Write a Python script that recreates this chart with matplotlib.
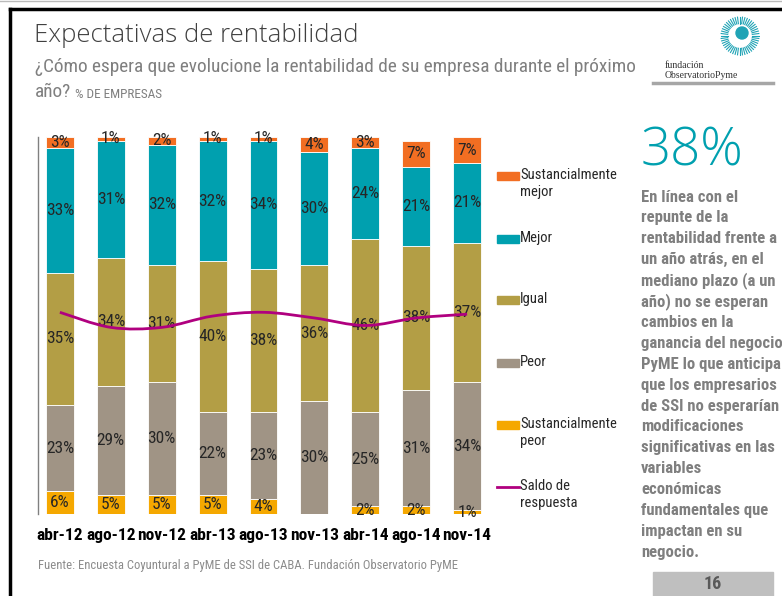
import matplotlib
matplotlib.use("Agg")
import matplotlib.pyplot as plt
from matplotlib import font_manager
from matplotlib.path import Path
from matplotlib.patches import PathPatch, Rectangle, Circle
from matplotlib.lines import Line2D
import numpy as np

# --- data
periodos = ["abr-12", "ago-12", "nov-12", "abr-13", "ago-13", "nov-13", "abr-14", "ago-14", "nov-14"]
sust_peor = [6, 5, 5, 5, 4, 0, 2, 2, 1]
peor = [23, 29, 30, 22, 23, 30, 25, 31, 34]
igual = [35, 34, 31, 40, 38, 36, 46, 38, 37]
mejor = [33, 31, 32, 32, 34, 30, 24, 21, 21]
sust_mejor = [3, 1, 2, 1, 1, 4, 3, 7, 7]
saldo = [7, -1, -1, 5, 7, 4, 0, 4, 6]

series = [
    ("Sustancialmente\npeor", sust_peor, "#F5A800"),
    ("Peor", peor, "#A09485"),
    ("Igual", igual, "#B39E45"),
    ("Mejor", mejor, "#00A0AF"),
    ("Sustancialmente\nmejor", sust_mejor, "#F26E22"),
]
line_color = "#B0007F"

# the slide uses Arial Narrow; pick the closest installed narrow family
ttf = font_manager.fontManager.ttflist
names = set(f.name for f in ttf)
prefer = ["Liberation Sans Narrow", "Arial Narrow", "Roboto Condensed", "Open Sans Condensed",
          "DejaVu Sans Condensed"]
prefer += sorted(n for n in names if "Narrow" in n or "Condensed" in n)
fam = next((n for n in prefer if n in names), None)
if fam:
    NARROW = [fam, "DejaVu Sans"]
    k = 1.0
else:
    NARROW = ["Liberation Sans", "DejaVu Sans"]
    k = 0.86
has_bold = fam is not None and any(
    f.name == fam and (f.weight in ("bold", "heavy", "black") or
                       (isinstance(f.weight, int) and f.weight >= 600)) for f in ttf)
if has_bold:
    BOLD = NARROW
    kb = k
else:
    BOLD = ["Liberation Sans", "DejaVu Sans"]
    kb = 0.84

W, H = 782, 596


def px(x, y):
    return x / W, 1 - y / H


fig = plt.figure(figsize=(W / 100, H / 100), dpi=100)
fig.patch.set_facecolor("white")

# slide frame
fig.add_artist(Line2D([10 / W, 1], [1 - 9 / H, 1 - 9 / H], color="black", lw=2.5))
fig.add_artist(Line2D([10 / W, 10 / W], [0, 1 - 9 / H], color="black", lw=2.5))
fig.add_artist(Line2D([0, 1], [1 - 1 / H, 1 - 1 / H], color="#BBBBBB", lw=1))

# titles
fig.text(*px(34, 35), "Expectativas de rentabilidad", fontsize=18.5, color="#404040",
         family=["Open Sans", "DejaVu Sans"], weight="light", va="center", ha="left")
fig.text(*px(35, 67), "¿Cómo espera que evolucione la rentabilidad de su empresa durante el próximo",
         fontsize=13.9 * k, color="#7F7F7F", family=NARROW, va="center", ha="left")
fig.text(*px(35, 92), "año?", fontsize=13.9 * k, color="#7F7F7F", family=NARROW,
         va="center", ha="left")
fig.text(*px(75, 95), "% DE EMPRESAS", fontsize=9.5 * k, color="#7F7F7F", family=NARROW,
         va="center", ha="left")

# --- chart
ax = fig.add_axes([38 / W, 1 - 514 / H, 451 / W, 377 / H])
x = np.arange(len(periodos))
bottom = np.zeros(len(periodos))
for name, vals, col in series:
    vals = np.array(vals, dtype=float)
    bars = ax.bar(x, vals, 0.55, bottom=bottom, color=col, edgecolor="white", linewidth=0.6)
    ax.bar_label(bars, labels=[("%d%%" % v) if v > 0 else "" for v in vals],
                 label_type="center", fontsize=12.5 * k, color="#262626", family=NARROW)
    bottom += vals

ax.set_xlim(-0.43, len(periodos) - 1 + 0.43)
ax.set_ylim(0, 100)
ax.set_xticks(x)
ax.set_xticklabels(periodos, fontsize=12.5 * kb, weight="bold", family=BOLD, color="black")
ax.tick_params(axis="x", length=0, pad=10)
ax.set_yticks([])
for s in ["top", "right", "bottom"]:
    ax.spines[s].set_visible(False)
ax.spines["left"].set_color("#808080")
ax.spines["left"].set_linewidth(1)

# saldo de respuesta, smoothed line on secondary axis
ax2 = ax.twinx()
ax2.set_ylim(-100, 100)
ax2.axis("off")
pts = np.column_stack([x, saldo]).astype(float)
ext = np.vstack([pts[0], pts, pts[-1]])
verts = [tuple(pts[0])]
codes = [Path.MOVETO]
for i in range(len(pts) - 1):
    p0, p1, p2, p3 = ext[i], ext[i + 1], ext[i + 2], ext[i + 3]
    c1 = p1 + (p2 - p0) / 6
    c2 = p2 - (p3 - p1) / 6
    verts += [tuple(c1), tuple(c2), tuple(p2)]
    codes += [Path.CURVE4] * 3
ax2.add_patch(PathPatch(Path(verts, codes), fill=False, edgecolor=line_color, lw=2))

# legend (manual)
leg_items = [("Sustancialmente\nmejor", "#F26E22", 176), ("Mejor", "#00A0AF", 239),
             ("Igual", "#B39E45", 300), ("Peor", "#A09485", 363),
             ("Sustancialmente\npeor", "#F5A800", 425)]
for label, col, yy in leg_items:
    fig.add_artist(Rectangle(px(497, yy + 4), 22 / W, 8 / H, color=col))
    fig.text(*px(520, yy - 8), label, fontsize=10.5 * k, color="#262626", family=NARROW,
             va="top", ha="left", linespacing=1.25)
fig.add_artist(Line2D([497 / W, 519 / W], [1 - 487 / H] * 2, color=line_color, lw=2))
fig.text(*px(520, 479), "Saldo de\nrespuesta", fontsize=10.5 * k, color="#262626", family=NARROW,
         va="top", ha="left", linespacing=1.25)

# right panel: logo
logo = fig.add_axes([720 / W, 1 - 56 / H, 40 / W, 40 / H])
logo.set_xlim(-1, 1)
logo.set_ylim(-1, 1)
logo.set_aspect("equal")
logo.axis("off")
for a in np.linspace(0, 360, 48, endpoint=False):
    r = np.radians(a)
    logo.plot([0.62 * np.cos(r), 0.95 * np.cos(r)], [0.62 * np.sin(r), 0.95 * np.sin(r)],
              color="#1FA3B5", lw=0.8)
logo.add_patch(Circle((0.1, 0.15), 0.3, color="#1FA3B5"))
fig.text(*px(665, 66), "fundación", fontsize=7, family=["Liberation Serif"], color="#333333",
         va="center", ha="left")
fig.text(*px(665, 76), "ObservatorioPyme", fontsize=7, family=["Liberation Serif"],
         color="#333333", va="center", ha="left")
fig.add_artist(Line2D([653 / W, 773 / W], [1 - 83 / H] * 2, color="#A6A6A6", lw=2.5))

fig.text(*px(641, 152), "38%", fontsize=38, color="#00A0AF", family=["Open Sans", "DejaVu Sans"],
         weight="light", va="center", ha="left")
parrafo = ["En línea con el", "repunte de la", "rentabilidad frente a", "un año atrás, en el",
           "mediano plazo (a un", "año) no se esperan", "cambios en la", "ganancia del negocio",
           "PyME lo que anticipa", "que los empresarios", "de SSI no esperarían",
           "modificaciones", "significativas en las", "variables", "económicas",
           "fundamentales que", "impactan en su", "negocio."]
for i, line in enumerate(parrafo):
    fig.text(*px(641, 197 + i * 20.9), line, fontsize=12 * kb, weight="bold", color="#7F7F7F",
             family=BOLD, va="center", ha="left")

fig.add_artist(Rectangle(px(653, 596), 120 / W, 24 / H, color="#BFBFBF"))
fig.text(*px(713, 584), "16", fontsize=13 * kb, weight="bold", color="#595959", family=BOLD,
         va="center", ha="center")

fig.text(*px(38, 566), "Fuente: Encuesta Coyuntural a PyME de SSI de CABA. Fundación Observatorio PyME",
         fontsize=9.1 * k, color="#8C8C8C", family=NARROW, va="center", ha="left")

fig.savefig("out.png", dpi=100)
